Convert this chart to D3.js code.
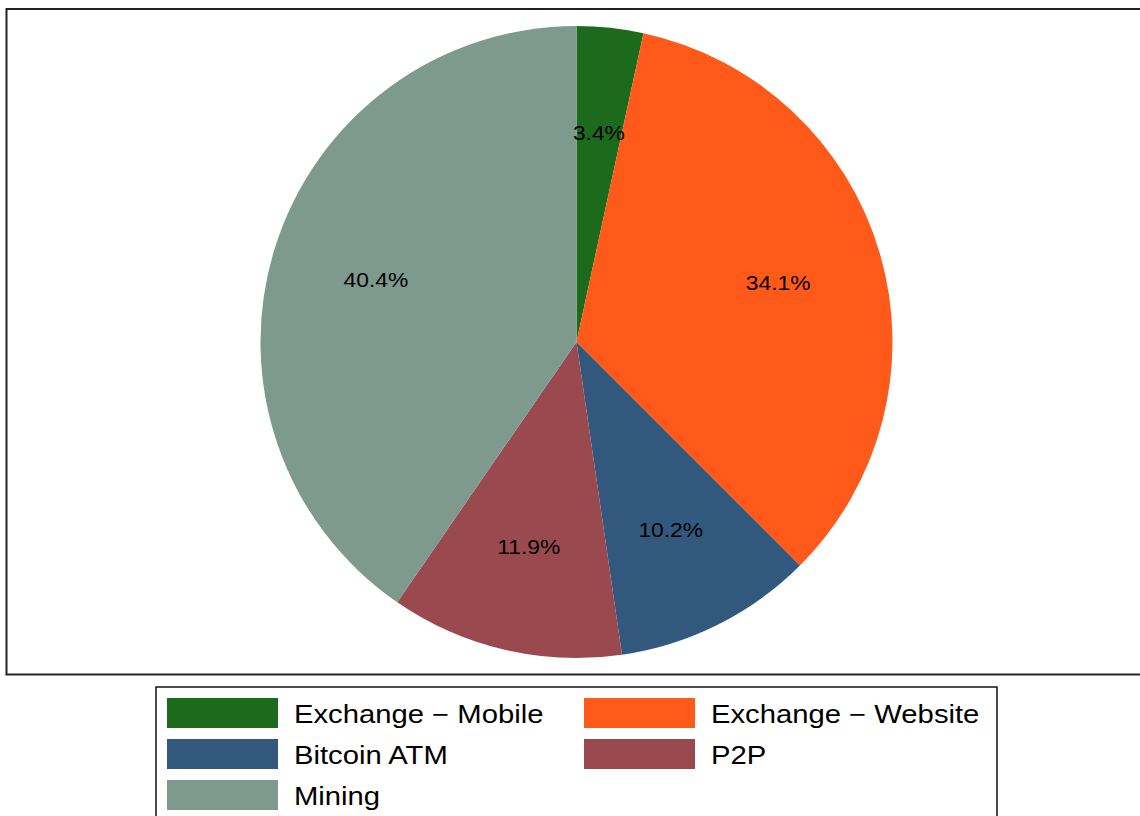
<!DOCTYPE html>
<html><head><meta charset="utf-8">
<script src="https://cdn.jsdelivr.net/npm/d3@7"></script>
<style>html,body{margin:0;padding:0;background:#fff;}svg{display:block;}</style>
</head><body>
<svg id="c" width="1140" height="816"></svg>
<script>
const categories = ["Exchange \u2212 Mobile", "Exchange \u2212 Website", "Bitcoin ATM", "P2P", "Mining"];
const values = [3.4, 34.1, 10.2, 11.9, 40.4];
const colors = ["#1c6b1c", "#ff5a19", "#32597d", "#9a4a4f", "#7e998e"];

const svg = d3.select("#c");
const W = 1140, H = 816;
const cx = 576.5, cy = 342, R = 316;
const sx = 1.17;
const font = "'Liberation Sans', Arial, Helvetica, sans-serif";

svg.append("rect").attr("x", 6.5).attr("y", 9).attr("width", 1200).attr("height", 665.5)
  .attr("fill", "none").attr("stroke", "#222").attr("stroke-width", 2);

const data = categories.map((c, i) => ({cat: c, value: values[i], color: colors[i]}));
const pie = d3.pie().value(d => d.value).sort(null);
const arcs = pie(data);
const arc = d3.arc().innerRadius(0).outerRadius(R);
const labelArc = d3.arc().innerRadius(R * 0.665).outerRadius(R * 0.665);

const g = svg.append("g").attr("transform", `translate(${cx},${cy})`);
g.selectAll("path").data(arcs).join("path")
  .attr("d", arc).attr("fill", d => d.data.color).attr("stroke", "none");

g.selectAll("text.lab").data(arcs).join("text")
  .attr("class", "lab")
  .attr("transform", d => { const [x, y] = labelArc.centroid(d); return `translate(${x},${y + 7}) scale(${sx},1)`; })
  .attr("text-anchor", "middle")
  .attr("font-family", font).attr("font-size", 19.5).attr("fill", "#000")
  .text(d => d.data.value.toFixed(1) + "%");

// legend
const legX = 156, legY = 687, legW = 841;
svg.append("rect").attr("x", legX).attr("y", legY).attr("width", legW).attr("height", 200)
  .attr("fill", "none").attr("stroke", "#111").attr("stroke-width", 1.5);

const legOrder = [0, 1, 2, 3, 4];
const colX = [167, 584];
const rowY = [698, 739, 780];
const lg = svg.append("g");
legOrder.forEach((idx, k) => {
  const col = k % 2, row = Math.floor(k / 2);
  const x = colX[col], y = rowY[row];
  lg.append("rect").attr("x", x).attr("y", y).attr("width", 111).attr("height", 30)
    .attr("fill", colors[idx]);
  lg.append("text")
    .attr("transform", `translate(${x + 127},${y + 25}) scale(${sx},1)`)
    .attr("font-family", font).attr("font-size", 25).attr("fill", "#000")
    .text(categories[idx]);
});
</script>
</body></html>
